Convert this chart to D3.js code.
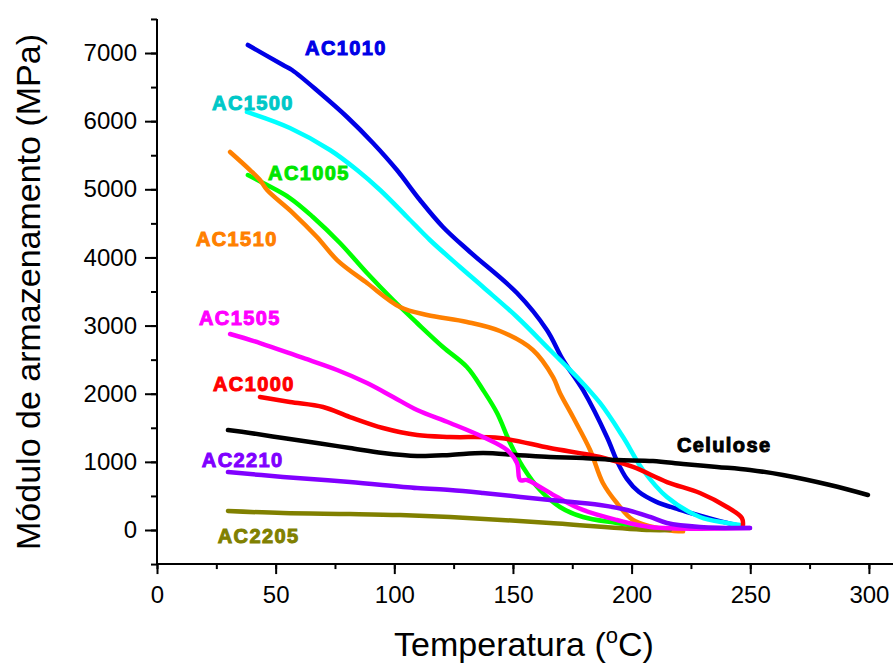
<!DOCTYPE html>
<html><head><meta charset="utf-8">
<script src="https://cdn.jsdelivr.net/npm/d3@7"></script>
<style>body{margin:0;background:#fff}svg{display:block}</style>
</head><body>
<script>
// ---- data (temperature °C, storage modulus MPa) ----
const AC1010_T = [38.3,53.1,56.9,68.7,80.1,91.0,101.1,110.8,120.5,131.9,151.7,164.3,171.1,179.5,189.6,194.0,198.0,203.0,210.0,220.0,230.0,238.5,245.7];
const AC1010_E = [7118,6824,6751,6413,6061,5680,5283,4843,4447,4080,3478,2935,2495,2055,1365,1000,750,560,420,300,200,120,60];
const AC1500_T = [37.9,56.0,72.9,84.3,94.0,105.4,115.0,127.7,137.4,151.7,165.6,177.0,186.7,196.4,204.8,214.9,228.8,240.2,245.7];
const AC1500_E = [6135,5900,5577,5283,4990,4594,4256,3860,3566,3126,2642,2245,1864,1365,881,484,191,103,73];
const AC1005_T = [38.3,44.7,56.0,65.7,77.1,88.5,99.5,109.6,120.5,130.6,137.4,143.3,148.8,154.2,161.4,169.8,179.5,193.8,207.8];
const AC1005_E = [5210,5093,4872,4594,4212,3772,3375,3038,2686,2392,2055,1717,1277,925,587,338,191,103,29];
const AC1510_T = [30.8,39.2,43.4,46.4,57.3,67.4,75.9,88.5,102.4,113.8,130.6,144.5,158.4,166.9,169.8,175.3,182.5,187.9,193.8,200.6,214.9,221.7];
const AC1510_E = [5548,5283,5137,4990,4652,4300,3962,3625,3273,3155,3053,2920,2642,2245,2011,1658,1174,690,396,147,0,-20];
const AC1505_T = [30.8,43.4,60.3,75.9,88.5,99.5,109.6,123.5,137.4,147.5,151.7,153.0,155.9,161.4,168.6,179.5,193.8,207.8,249.9];
const AC1505_E = [2876,2744,2539,2348,2157,1952,1761,1570,1365,1174,983,734,734,631,484,294,147,44,29];
const AC1000_T = [43.4,56.0,70.0,81.3,95.2,109.6,123.5,144.5,165.6,186.7,200.6,214.9,228.8,240.2,246.5,246.9];
const AC1000_E = [1952,1879,1805,1658,1497,1394,1365,1350,1203,1071,925,704,543,338,176,59];
const CEL_T = [29.9,39.2,53.1,67.4,81.3,95.2,109.6,123.5,137.4,151.7,165.6,179.5,193.8,209.0,221.7,236.0,249.9,263.8,283.6,299.6];
const CEL_E = [1468,1424,1350,1277,1203,1130,1086,1101,1130,1101,1071,1057,1027,1013,969,925,881,807,660,514];
const AC2210_T = [29.9,53.1,81.3,109.6,123.5,137.4,165.6,186.7,198.1,207.8,214.9,228.8,249.9];
const AC2210_E = [851,778,704,616,587,543,440,367,294,191,103,44,29];
const AC2205_T = [29.9,53.1,81.3,102.4,123.5,165.6,207.8,216.2];
const AC2205_E = [279,249,235,220,191,103,0,0];

const seriesNames  = ["AC1005","AC1510","AC1010","AC1500","AC1000","Celulose","AC2205","AC1505","AC2210"];
const seriesT      = [AC1005_T,AC1510_T,AC1010_T,AC1500_T,AC1000_T,CEL_T,AC2205_T,AC1505_T,AC2210_T];
const seriesE      = [AC1005_E,AC1510_E,AC1010_E,AC1500_E,AC1000_E,CEL_E,AC2205_E,AC1505_E,AC2210_E];
const seriesColors = ["#00ff00","#ff8000","#0000e6","#00ffff","#ff0000","#000000","#808000","#ff00ff","#8000ff"];

// labels: name, colour, anchor value (T, E) where the label's left baseline sits
const labelNames  = ["AC1010","AC1500","AC1005","AC1510","AC1505","AC1000","AC2210","AC2205","Celulose"];
const labelColors = ["#0000e6","#00c8c8","#00e600","#ff8000","#ff00ff","#ff0000","#8000ff","#808000","#000000"];
const labelT      = [62.4,23.2,46.8,16.4,17.7,23.6,18.9,25.6,219.1];
const labelE      = [6970,6164,5137,4168,3009,2034,919,-191,1145];

const xTicks = [0,50,100,150,200,250,300];
const yTicks = [0,1000,2000,3000,4000,5000,6000,7000];

// ---- chart ----
const W = 893, H = 666;
const svg = d3.select("body").append("svg").attr("width", W).attr("height", H)
  .style("font-family", "Arial, 'Liberation Sans', sans-serif");

const x = d3.scaleLinear().domain([0, 310]).range([157, 157 + 310 * 2.373]);
const y = d3.scaleLinear().domain([-500, 7500]).range([530 + 500 * 0.06814, 530 - 7500 * 0.06814]);

const x0 = 157, yb = y(-500);

// minor ticks
svg.append("g").attr("transform", `translate(0,${yb})`)
  .call(d3.axisBottom(x).tickValues(d3.range(0, 311, 25)).tickSize(5).tickFormat(""))
  .call(g => g.select(".domain").remove())
  .selectAll("line").attr("stroke", "#000").attr("stroke-width", 2);
svg.append("g").attr("transform", `translate(${x0},0)`)
  .call(d3.axisLeft(y).tickValues(d3.range(-500, 7501, 500)).tickSize(6).tickFormat(""))
  .call(g => g.select(".domain").remove())
  .selectAll("line").attr("stroke", "#000").attr("stroke-width", 2);

// major axes
const gx = svg.append("g").attr("transform", `translate(0,${yb})`)
  .call(d3.axisBottom(x).tickValues(xTicks).tickSize(10).tickPadding(12).tickFormat(d3.format("d")));
const gy = svg.append("g").attr("transform", `translate(${x0},0)`)
  .call(d3.axisLeft(y).tickValues(yTicks).tickSize(12).tickPadding(8).tickFormat(d3.format("d")));
[gx, gy].forEach(g => {
  g.select(".domain").remove();
  g.selectAll("line").attr("stroke", "#000").attr("stroke-width", 2);
  g.selectAll("text").attr("fill", "#000").style("font-size", "24px")
    .style("font-family", "Arial, 'Liberation Sans', sans-serif");
});
svg.append("line").attr("x1", x0).attr("x2", x0).attr("y1", y(7500)).attr("y2", yb + 1)
  .attr("stroke", "#000").attr("stroke-width", 2);
svg.append("line").attr("x1", x0 - 1).attr("x2", W).attr("y1", yb).attr("y2", yb)
  .attr("stroke", "#000").attr("stroke-width", 2);

// lines
const line = d3.line().x(d => x(d[0])).y(d => y(d[1])).curve(d3.curveCatmullRom.alpha(0.5));
seriesNames.forEach((n, i) => {
  const pts = seriesT[i].map((t, j) => [t, seriesE[i][j]]);
  svg.append("path").datum(pts).attr("d", line)
    .attr("fill", "none").attr("stroke", seriesColors[i])
    .attr("stroke-width", 4.5).attr("stroke-linecap", "round").attr("stroke-linejoin", "round");
});

// series labels
labelNames.forEach((n, i) => {
  svg.append("text").attr("x", x(labelT[i])).attr("y", y(labelE[i]))
    .text(n).attr("fill", labelColors[i]).attr("stroke", labelColors[i]).attr("stroke-width", 1)
    .style("font-size", "20px").style("font-weight", "bold").style("letter-spacing", "1.4px");
});

// axis titles
const xt = svg.append("text").attr("x", 524).attr("y", 656).attr("text-anchor", "middle")
  .style("font-size", "34px").attr("fill", "#000");
xt.append("tspan").text("Temperatura (");
xt.append("tspan").text("o").style("font-size", "22px").attr("dy", -13);
xt.append("tspan").text("C)").attr("dy", 13);

svg.append("text").attr("transform", "translate(40,292) rotate(-90)").attr("text-anchor", "middle")
  .style("font-size", "34px").attr("fill", "#000").text("Módulo de armazenamento (MPa)");
</script>
</body></html>
